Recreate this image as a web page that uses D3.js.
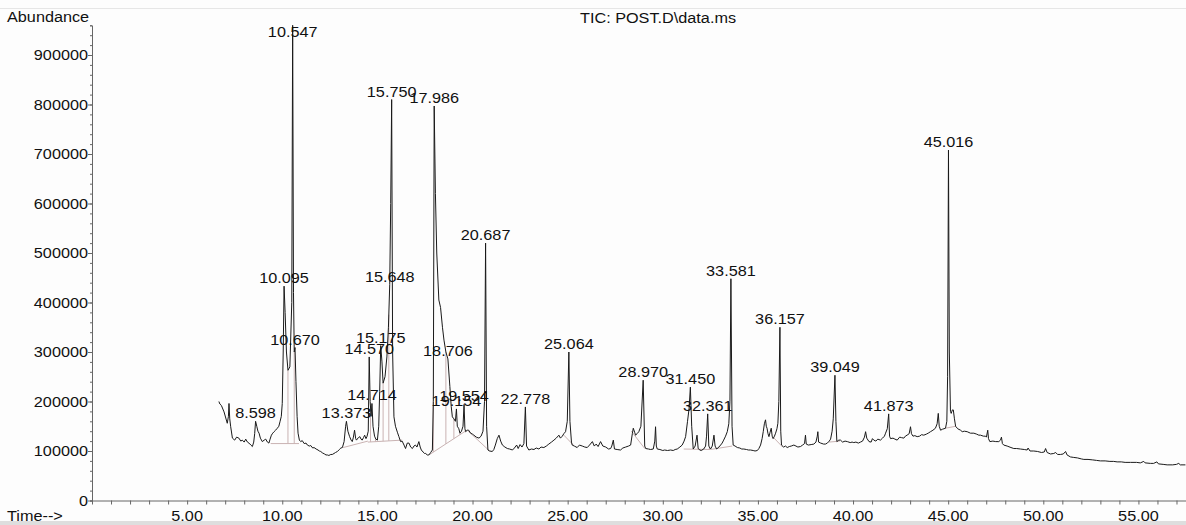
<!DOCTYPE html>
<html>
<head>
<meta charset="utf-8">
<script src="https://cdn.jsdelivr.net/npm/d3@7"></script>
<style>
  body { margin: 0; background: #fdfdfd; }
  text { font-family: "Liberation Sans", Arial, sans-serif; fill: #111; }
</style>
</head>
<body>
<div id="chart"></div>
<script>
// retention time (min) and abundance (thousands) of the TIC trace
const traceTime = [6.67, 6.72, 6.80, 6.94, 7.11, 7.17, 7.20, 7.24, 7.29, 7.38, 7.50, 7.60, 7.72, 7.82, 7.90, 8.00, 8.08, 8.17, 8.25, 8.35, 8.43, 8.50, 8.55,
  8.66, 8.72, 8.78, 8.85, 8.95, 9.05, 9.13, 9.22, 9.30, 9.36, 9.43, 9.50, 9.57, 9.65, 9.74, 9.82, 9.88, 9.95, 10.00, 10.05,
  10.15, 10.22, 10.30, 10.40, 10.50, 10.59, 10.63, 10.72, 10.78, 10.83, 10.90, 10.97, 11.05, 11.15, 11.25, 11.32, 11.42, 11.50, 11.60, 11.67,
  11.78, 11.88, 11.95, 12.02, 12.12, 12.22, 12.30, 12.37, 12.45, 12.55, 12.63, 12.72, 12.80, 12.90, 13.00, 13.08, 13.16, 13.25, 13.33,
  13.45, 13.54, 13.62, 13.68, 13.74, 13.80, 13.86, 13.90, 14.00, 14.08, 14.14, 14.20, 14.27, 14.33, 14.40, 14.45, 14.52,
  14.62, 14.67, 14.77, 14.85, 14.92, 15.00, 15.07, 15.12, 15.24, 15.30, 15.40, 15.50, 15.58, 15.70, 15.80, 15.87, 15.95, 16.05, 16.13,
  16.22, 16.30, 16.40, 16.48, 16.57, 16.66, 16.75, 16.84, 16.92, 17.00, 17.08, 17.18, 17.25, 17.31, 17.40, 17.48, 17.54, 17.62, 17.71, 17.80, 17.89, 17.94,
  18.05, 18.12, 18.23, 18.32, 18.42, 18.50, 18.60, 18.81, 18.88, 18.94, 19.02, 19.10, 19.20, 19.28, 19.34, 19.42, 19.50,
  19.60, 19.64, 19.72, 19.80, 19.90, 20.00, 20.07, 20.20, 20.34, 20.45, 20.55, 20.63, 20.74, 20.81, 20.90, 21.04, 21.12, 21.20, 21.30, 21.39,
  21.48, 21.57, 21.70, 21.83, 21.95, 22.10, 22.20, 22.32, 22.40, 22.50, 22.60, 22.70, 22.84, 22.96, 23.10, 23.23, 23.35, 23.49, 23.60, 23.75,
  23.88, 24.01, 24.15, 24.28, 24.40, 24.54, 24.62, 24.72, 24.80, 24.89, 24.98, 25.12, 25.20, 25.24, 25.35, 25.50, 25.62, 25.77, 25.90, 26.03,
  26.15, 26.30, 26.40, 26.50, 26.60, 26.73, 26.85, 27.00, 27.15, 27.26, 27.32, 27.40, 27.46, 27.60, 27.78, 27.90, 28.05, 28.20, 28.31, 28.40,
  28.45, 28.52, 28.57, 28.65, 28.74, 28.85, 29.05, 29.10, 29.25, 29.36, 29.50, 29.58, 29.62, 29.66, 29.71, 29.85, 30.00, 30.10, 30.25, 30.41,
  30.55, 30.65, 30.76, 30.90, 31.02, 31.12, 31.20, 31.30, 31.38, 31.52, 31.60, 31.70, 31.80, 31.86, 31.95, 32.02, 32.15, 32.25, 32.30,
  32.42, 32.51, 32.60, 32.69, 32.75, 32.83, 32.95, 33.04, 33.12, 33.20, 33.30, 33.39, 33.47, 33.53, 33.64, 33.70, 33.80, 33.92, 34.05, 34.15,
  34.26, 34.40, 34.50, 34.61, 34.75, 34.85, 34.97, 35.05, 35.14, 35.22, 35.28, 35.34, 35.40, 35.44, 35.48, 35.53, 35.58, 35.64, 35.70, 35.75,
  35.80, 35.87, 35.93, 36.00, 36.05, 36.10, 36.20, 36.24, 36.35, 36.45, 36.54, 36.65, 36.75, 36.89, 37.00, 37.10, 37.24, 37.35, 37.45, 37.50,
  37.54, 37.65, 37.80, 37.94, 38.05, 38.12, 38.15, 38.19, 38.30, 38.45, 38.55, 38.65, 38.75, 38.82, 38.90, 38.96, 39.10, 39.15, 39.25, 39.34,
  39.45, 39.58, 39.70, 39.85, 39.95, 40.04, 40.15, 40.28, 40.39, 40.50, 40.60, 40.66, 40.72, 40.84, 40.95, 41.02, 41.09, 41.20, 41.30, 41.44,
  41.55, 41.65, 41.71, 41.80, 41.92, 41.97, 42.10, 42.20, 42.32, 42.45, 42.55, 42.67, 42.75, 42.84, 42.95, 43.02, 43.07, 43.15, 43.25, 43.37,
  43.50, 43.60, 43.72, 43.85, 43.95, 44.07, 44.20, 44.33, 44.42, 44.48, 44.53, 44.60, 44.70, 44.78, 44.86, 44.93, 44.97, 45.06, 45.12, 45.16,
  45.22, 45.27, 45.33, 45.39, 45.50, 45.65, 45.74, 45.85, 46.00, 46.17, 46.35, 46.50, 46.61, 46.70, 46.85, 46.96, 47.01, 47.08, 47.12, 47.19,
  47.35, 47.50, 47.66, 47.75, 47.80, 47.85, 47.92, 48.10, 48.30, 48.45, 48.60, 48.80, 49.00, 49.15, 49.20, 49.30, 49.50, 49.70, 49.90, 50.05,
  50.12, 50.20, 50.38, 50.55, 50.65, 50.75, 50.90, 51.05, 51.17, 51.25, 51.43, 51.60, 51.80, 52.00, 52.13, 52.35, 52.60, 52.80, 53.00, 53.25,
  53.50, 53.70, 53.88, 54.10, 54.30, 54.58, 54.90, 55.10, 55.28, 55.35, 55.63, 55.80, 55.97, 56.05, 56.30, 56.51, 56.80, 57.00, 57.12, 57.20, 57.47];

const traceAbundK = [200, 195, 192, 179, 156, 170, 196, 165, 149, 126, 122, 128, 126, 120, 122, 118, 124, 118, 116, 112, 109, 118, 135,
  150, 140, 136, 126, 119, 122, 124, 118, 116, 124, 132, 136, 139, 142, 146, 150, 159, 170, 196, 300,
  380, 300, 263, 270, 400, 420, 300, 240, 170, 136, 122, 119, 121, 115, 116, 112, 110, 111, 106, 107,
  104, 102, 100, 99, 96, 94, 92, 92, 91, 93, 93, 95, 97, 99, 103, 106, 107, 119, 150,
  140, 129, 122, 119, 128, 142, 125, 122, 127, 129, 124, 122, 127, 132, 125, 129, 140,
  200, 170, 150, 130, 124, 122, 150, 220, 280, 237, 250, 290, 350, 600, 300, 169, 150, 138, 129,
  119, 120, 112, 105, 116, 116, 108, 105, 110, 112, 108, 119, 108, 102, 98, 95, 95, 92, 92, 97, 102, 200,
  620, 500, 405, 390, 350, 324, 300, 230, 190, 169, 165, 160, 150, 145, 136, 140, 150,
  145, 139, 142, 142, 136, 134, 132, 128, 126, 130, 140, 200, 150, 102, 100, 99, 103, 112, 125, 132,
  120, 112, 108, 105, 104, 102, 106, 112, 105, 113, 108, 115, 110, 102, 104, 103, 106, 104, 108, 107,
  110, 114, 118, 122, 126, 132, 126, 130, 135, 139, 160, 160, 118, 112, 110, 107, 112, 110, 108, 107,
  112, 119, 110, 114, 109, 119, 110, 108, 104, 105, 110, 122, 104, 103, 102, 106, 108, 110, 112, 135,
  146, 138, 132, 135, 139, 150, 110, 105, 104, 103, 104, 120, 149, 110, 104, 103, 101, 102, 101, 102,
  101, 103, 104, 108, 112, 120, 129, 160, 185, 150, 104, 110, 132, 105, 102, 101, 104, 110, 130,
  110, 104, 110, 132, 110, 104, 108, 112, 116, 122, 130, 139, 155, 200, 150, 112, 110, 107, 106, 104,
  104, 103, 102, 102, 101, 100, 101, 105, 112, 125, 139, 155, 163, 150, 146, 135, 129, 138, 146, 130,
  125, 130, 136, 145, 156, 200, 140, 112, 108, 110, 107, 109, 110, 112, 110, 108, 109, 112, 115, 132,
  114, 112, 113, 114, 118, 130, 139, 118, 116, 114, 114, 116, 120, 124, 140, 165, 160, 119, 122, 122,
  118, 120, 119, 117, 118, 117, 118, 116, 118, 120, 128, 139, 126, 119, 118, 125, 122, 120, 124, 122,
  126, 130, 136, 145, 130, 125, 126, 124, 122, 128, 127, 126, 130, 132, 135, 149, 135, 130, 131, 129,
  130, 133, 132, 134, 136, 139, 142, 146, 155, 176, 150, 142, 144, 145, 146, 160, 250, 300, 180, 176,
  183, 183, 165, 150, 145, 142, 139, 140, 139, 136, 136, 134, 132, 132, 130, 130, 128, 142, 125, 119,
  120, 119, 119, 122, 128, 115, 112, 110, 107, 105, 105, 104, 103, 102, 106, 100, 100, 99, 97, 98,
  105, 97, 94, 95, 97, 93, 93, 94, 99, 92, 88, 87, 86, 84, 83, 83, 82, 81, 80, 80,
  79, 79, 78, 78, 77, 77, 77, 76, 79, 76, 75, 75, 78, 74, 73, 72, 72, 73, 75, 72, 72];

// labelled peaks: retention time and apex abundance (thousands)
const peakTimes = [8.598, 10.095, 10.547, 10.670, 13.373, 14.570, 14.714, 15.175, 15.648, 15.750, 17.986, 18.706,
  19.154, 19.554, 20.687, 22.778, 25.064, 28.970, 31.450, 32.361, 33.581, 36.157, 39.049, 41.873, 45.016];
const peakAbundK = [160, 433, 960, 309, 160, 290, 196, 313, 436, 810, 797, 286,
  185, 194, 520, 189, 300, 243, 229, 175, 448, 350, 253, 175, 708];

// integration baselines [t0, A0, t1, A1] and drop lines (times)
const baseT0 = [9.39, 13.20, 14.50, 17.75, 19.75, 24.80, 28.35, 31.10, 32.50, 35.80, 38.75, 44.85];
const baseA0 = [115, 107, 118, 93, 141, 132, 140, 104, 103, 128, 118, 146];
const baseT1 = [10.88, 14.50, 16.30, 19.70, 20.90, 25.30, 29.05, 32.50, 33.65, 36.30, 39.30, 45.40];
const baseA1 = [115, 120, 122, 142, 100, 112, 105, 103, 110, 108, 120, 150];
const dropTimes = [10.30, 10.63, 14.64, 14.90, 15.30, 15.60, 17.94, 18.60, 19.02, 19.34, 31.86, 32.45];

const yTicks = d3.range(0, 1000000, 100000);
const xTicks = d3.range(5, 60, 5);

const width = 1186;
const height = 525;

const svg = d3.select('#chart')
    .append('svg')
    .attr('width', width)
    .attr('height', height);

// Scales
const x_scale = d3.scaleLinear()
    .domain([0, 57.5])
    .range([92, 1186]);

const y_scale = d3.scaleLinear()
    .domain([0, 960000])
    .range([500.5, 25.3]);

// frame lines of the screenshot
svg.append('line')
    .attr('x1', 0).attr('x2', width)
    .attr('y1', 8.5).attr('y2', 8.5)
    .attr('stroke', '#e6e6e6');
svg.append('rect')
    .attr('x', 0).attr('y', 521)
    .attr('width', width).attr('height', 4)
    .attr('fill', '#dedede');

// stretched text, like the original printout
function label(x, y, txt, anchor) {
    return svg.append('text')
        .attr('transform', `translate(${x},${y}) scale(1.16,1)`)
        .attr('text-anchor', anchor || 'start')
        .attr('font-size', 14)
        .text(txt);
}

// Axes
const yAxisMinor = d3.axisLeft(y_scale)
    .tickValues(d3.range(0, 960001, 20000))
    .tickSize(2)
    .tickFormat('');
svg.append('g')
    .attr('transform', 'translate(92,0)')
    .call(yAxisMinor)
    .call(g => g.selectAll('line, path').attr('stroke', '#666'));

const yAxis = d3.axisLeft(y_scale)
    .tickValues(yTicks)
    .tickSize(4)
    .tickFormat('');
svg.append('g')
    .attr('transform', 'translate(92,0)')
    .call(yAxis)
    .call(g => g.select('.domain').remove())
    .call(g => g.selectAll('line').attr('stroke', '#666'));

yTicks.forEach(v => label(88, y_scale(v) + 5, d3.format('d')(v), 'end'));

const xAxisMinor = d3.axisBottom(x_scale)
    .tickValues(d3.range(1, 58, 1))
    .tickSize(4)
    .tickFormat('');
svg.append('g')
    .attr('transform', 'translate(0,500.5)')
    .call(xAxisMinor)
    .call(g => g.selectAll('line, path').attr('stroke', '#666'));

xTicks.forEach(v => label(x_scale(v), 521, d3.format('.2f')(v), 'middle'));

// integration marks
const baseValueAt = t => {
    for (let i = 0; i < baseT0.length; i++) {
        if (t >= baseT0[i] && t <= baseT1[i]) {
            const f = (t - baseT0[i]) / (baseT1[i] - baseT0[i]);
            return (baseA0[i] + f * (baseA1[i] - baseA0[i])) * 1000;
        }
    }
    return null;
};

svg.selectAll('line.base')
    .data(baseT0)
    .enter()
    .append('line')
    .attr('class', 'base')
    .attr('x1', d => x_scale(d))
    .attr('y1', (d, i) => y_scale(baseA0[i] * 1000))
    .attr('x2', (d, i) => x_scale(baseT1[i]))
    .attr('y2', (d, i) => y_scale(baseA1[i] * 1000))
    .attr('stroke', '#c9b3b3')
    .attr('stroke-width', 1);

// merge trace points and peak apexes
const points = traceTime.map((t, i) => [t, traceAbundK[i] * 1000])
    .concat(peakTimes.map((t, i) => [t, peakAbundK[i] * 1000]))
    .sort((a, b) => a[0] - b[0]);

const traceAt = t => {
    const i = d3.bisector(d => d[0]).left(points, t);
    const a = points[Math.max(0, i - 1)], b = points[Math.min(points.length - 1, i)];
    if (a === b) return a[1];
    return a[1] + (t - a[0]) / (b[0] - a[0]) * (b[1] - a[1]);
};

svg.selectAll('line.drop')
    .data(dropTimes.filter(t => baseValueAt(t) !== null))
    .enter()
    .append('line')
    .attr('class', 'drop')
    .attr('x1', d => x_scale(d))
    .attr('x2', d => x_scale(d))
    .attr('y1', d => y_scale(traceAt(d)))
    .attr('y2', d => y_scale(baseValueAt(d)))
    .attr('stroke', '#c9b3b3')
    .attr('stroke-width', 1);

// TIC trace
const line = d3.line()
    .x(d => x_scale(d[0]))
    .y(d => y_scale(d[1]));

svg.append('path')
    .datum(points)
    .attr('d', line)
    .attr('fill', 'none')
    .attr('stroke', '#1a1a1a')
    .attr('stroke-width', 1)
    .attr('stroke-linejoin', 'round');

// peak labels
peakTimes.forEach((t, i) => {
    const y = Math.max(y_scale(peakAbundK[i] * 1000) - 3, 37);
    label(x_scale(t), y, d3.format('.3f')(t), 'middle');
});

// titles
label(7, 22, 'Abundance');
label(658, 23, 'TIC: POST.D\\data.ms', 'middle');
label(7, 521, 'Time-->');
</script>
</body>
</html>
